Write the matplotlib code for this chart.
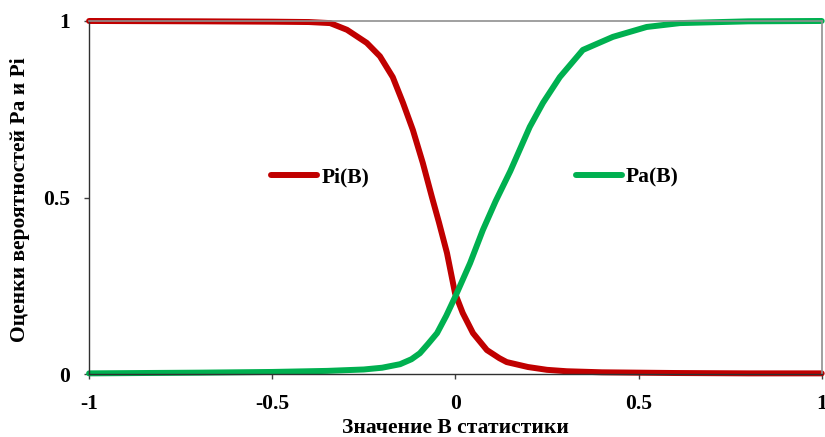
import matplotlib.pyplot as plt

# Pi(B) curve
pi_x = [-1.0, -0.7, -0.5, -0.4, -0.342, -0.296, -0.242, -0.206, -0.171, -0.143,
        -0.116, -0.089, -0.064, -0.045, -0.023, -0.001, 0.02, 0.048, 0.086,
        0.12, 0.14, 0.198, 0.25, 0.304, 0.4, 0.6, 0.8, 1.0]
pi_y = [1.0, 0.999, 0.998, 0.997, 0.994, 0.975, 0.938, 0.90, 0.841, 0.768,
        0.691, 0.598, 0.501, 0.43, 0.343, 0.229, 0.173, 0.116, 0.068,
        0.045, 0.034, 0.02, 0.012, 0.008, 0.005, 0.003, 0.002, 0.002]

# Pa(B) curve
pa_x = [-1.0, -0.7, -0.5, -0.35, -0.25, -0.2, -0.151, -0.12, -0.097, -0.075,
        -0.05, -0.025, -0.001, 0.04, 0.075, 0.11, 0.15, 0.203, 0.239, 0.285,
        0.348, 0.43, 0.522, 0.613, 0.8, 1.0]
pa_y = [0.002, 0.004, 0.006, 0.009, 0.013, 0.018, 0.028, 0.042, 0.059, 0.085,
        0.116, 0.165, 0.218, 0.314, 0.408, 0.49, 0.575, 0.70, 0.768, 0.841,
        0.918, 0.955, 0.983, 0.994, 0.999, 1.0]

xticks = [-1, -0.5, 0, 0.5, 1]
xtick_labels = ['-1', '-0.5', '0', '0.5', '1']
yticks = [0, 0.5, 1]
ytick_labels = ['0', '0.5', '1']

plt.rcParams['font.family'] = ['Liberation Serif', 'DejaVu Serif']
plt.rcParams['font.weight'] = 'bold'
fs = 15.5

fig = plt.figure(figsize=(8.25, 4.37), dpi=100)
ax = fig.add_axes([0.108, 0.144, 0.888, 0.808])

ax.plot(pi_x, pi_y, color='#C00000', lw=4.3, label='Pi(B)', clip_on=False,
        solid_capstyle='round', solid_joinstyle='round')
ax.plot(pa_x, pa_y, color='#00B050', lw=4.3, label='Pa(B)', clip_on=False,
        solid_capstyle='round', solid_joinstyle='round')

ax.set_xlim(-1, 1)
ax.set_ylim(0, 1)
ax.set_xticks(xticks)
ax.set_xticklabels(xtick_labels, fontsize=fs, fontweight='bold')
ax.set_yticks(yticks)
ax.set_yticklabels(ytick_labels, fontsize=fs, fontweight='bold')
ax.tick_params(direction='out', length=3.6, width=1, color='#404040')
ax.tick_params(axis='x', pad=11)
ax.tick_params(axis='y', pad=10)

for side in ['left', 'bottom']:
    ax.spines[side].set_color('#303030')
    ax.spines[side].set_linewidth(1)
for side in ['top', 'right']:
    ax.spines[side].set_color('#909090')
    ax.spines[side].set_linewidth(1.2)

ax.set_xlabel('Значение B статистики', fontsize=fs, fontweight='bold')
ax.set_ylabel('Оценки вероятностей Pa и Pi', fontsize=fs, fontweight='bold')
ax.xaxis.set_label_coords(0.5, -0.125)
ax.yaxis.set_label_coords(-0.08, 0.493)

ax.legend(loc='center', bbox_to_anchor=(0.527, 0.558), ncol=2, frameon=False,
          handlelength=2.14, handletextpad=0.19, columnspacing=9.6,
          borderpad=0, prop={'size': fs, 'weight': 'bold'})

fig.savefig('out.png', dpi=100)
